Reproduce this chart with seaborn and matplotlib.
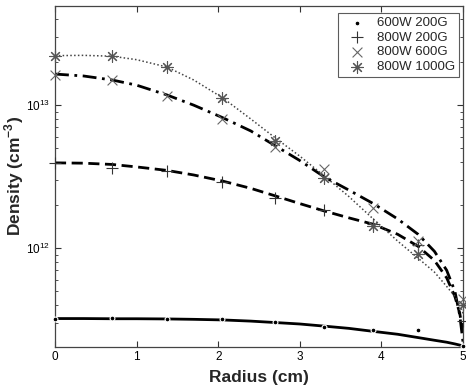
import numpy as np
import pandas as pd
import seaborn as sns
import matplotlib.pyplot as plt
from matplotlib.ticker import LogLocator, NullFormatter, FixedLocator

# measured points (radius in cm, density in cm^-3)
radius = [0, 0.7, 1.37, 2.05, 2.7, 3.3, 3.9, 4.45, 5.0]
n_600w_200g = [3.19e11, 3.24e11, 3.19e11, 3.2e11, 3.04e11, 2.83e11, 2.66e11, 2.66e11, 2.08e11]
n_800w_200g = [3.93e12, 3.63e12, 3.49e12, 2.9e12, 2.24e12, 1.85e12, 1.48e12, 1.05e12, 3.1e11]
n_800w_600g = [1.63e13, 1.5e13, 1.15e13, 8.0e12, 5.1e12, 3.6e12, 1.9e12, 1.13e12, 4.4e11]
n_800w_1000g = [2.22e13, 2.22e13, 1.86e13, 1.13e13, 5.6e12, 3.09e12, 1.43e12, 9.1e11, 4.0e11]

# fitted profiles
fit_r = [0, 0.35, 0.7, 1.0, 1.37, 1.7, 2.05, 2.4, 2.7, 3.0, 3.3, 3.6, 3.9, 4.2,
         4.45, 4.65, 4.8, 4.9, 4.96, 5.0]
fit_600w_200g = [3.22e11, 3.22e11, 3.21e11, 3.21e11, 3.2e11, 3.18e11, 3.15e11, 3.09e11,
                 3.02e11, 2.95e11, 2.85e11, 2.75e11, 2.62e11, 2.5e11, 2.37e11, 2.27e11,
                 2.2e11, 2.14e11, 2.1e11, 2.07e11]
fit_800w_200g = [3.95e12, 3.93e12, 3.85e12, 3.7e12, 3.5e12, 3.25e12, 2.95e12, 2.62e12,
                 2.32e12, 2.05e12, 1.82e12, 1.63e12, 1.47e12, 1.25e12, 1.03e12, 8.2e11,
                 6.2e11, 4.6e11, 3.5e11, 2.6e11]
fit_800w_600g = [1.65e13, 1.6e13, 1.5e13, 1.38e13, 1.18e13, 1.0e13, 8.2e12, 6.6e12,
                 5.2e12, 4.1e12, 3.15e12, 2.55e12, 2.05e12, 1.6e12, 1.25e12, 9.5e11,
                 7.0e11, 5.0e11, 3.4e11, 2.2e11]
fit_800w_1000g = [2.22e13, 2.23e13, 2.2e13, 2.08e13, 1.85e13, 1.5e13, 1.13e13, 8.0e12,
                  5.9e12, 4.4e12, 3.2e12, 2.3e12, 1.6e12, 1.12e12, 8.5e11, 6.8e11,
                  5.4e11, 4.6e11, 4.0e11, 3.5e11]

sns.set_style('ticks')
plt.rcParams['font.family'] = ['Liberation Sans', 'DejaVu Sans']
plt.rcParams['mathtext.fontset'] = 'custom'
plt.rcParams['mathtext.rm'] = 'Liberation Sans'
plt.rcParams['mathtext.bf'] = 'Liberation Sans:bold'

fig = plt.figure(figsize=(4.66, 3.89), dpi=100)
ax = fig.add_axes([0.118, 0.109, 0.8756, 0.876])

# fitted lines (no legend entries)
fits = [(fit_600w_200g, '-', 2.0, 'black'),
        (fit_800w_200g, (0, (4, 2)), 2.0, 'black'),
        (fit_800w_600g, (0, (5, 2, 1, 2)), 2.0, 'black'),
        (fit_800w_1000g, (0, (1, 1.5)), 1.1, '#444444')]
for vals, ls, lw, col in fits:
    sns.lineplot(x=fit_r, y=vals, ax=ax, color=col, linestyle=ls, linewidth=lw,
                 sort=False, estimator=None, legend=False)

# measured points
series = [(n_600w_200g, '600W 200G', 'o', 12, 'black'),
          (n_800w_200g, '800W 200G', '+', 70, '#333333'),
          (n_800w_600g, '800W 600G', 'x', 50, '#666666'),
          (n_800w_1000g, '800W 1000G', (8, 2, 0), 70, '#555555')]
for vals, lab, mk, sz, col in series:
    sns.scatterplot(x=radius, y=vals, ax=ax, marker=mk, s=sz, color=col,
                    linewidth=0.8, label=lab, clip_on=False, zorder=3)

ax.set_yscale('log')
ax.set_xlim(0, 5)
ax.set_ylim(2.05e11, 4.95e13)
ax.xaxis.set_major_locator(FixedLocator([0, 1, 2, 3, 4, 5]))
ax.yaxis.set_major_locator(LogLocator(base=10, numticks=10))
ax.yaxis.set_minor_locator(LogLocator(base=10, subs=np.arange(2, 10), numticks=20))
ax.yaxis.set_minor_formatter(NullFormatter())

ax.tick_params(which='both', direction='in', top=True, right=True,
               labelsize=8.5, colors='#333333', labelcolor='black')
ax.tick_params(which='major', length=4, width=0.8)
ax.tick_params(which='minor', length=2.5, width=0.6)
for sp in ax.spines.values():
    sp.set_color('#444444')
    sp.set_linewidth(0.9)

ax.set_xlabel('Radius (cm)', fontsize=12.5, fontweight='bold', labelpad=5)
ax.set_ylabel(r'Density (cm$^{\mathbf{-3}}$)', fontsize=12.5, fontweight='bold')
ax.yaxis.set_label_coords(-0.072, 0.5)

leg = ax.legend(loc='upper right', bbox_to_anchor=(0.990, 0.979), borderaxespad=0,
                fontsize=9.5, frameon=True, fancybox=False,
                handletextpad=0.36, labelspacing=0.18,
                borderpad=0.3, handlelength=2.27)
leg.get_frame().set_edgecolor('#333333')
leg.get_frame().set_linewidth(0.8)

fig.savefig('out.png', dpi=100)
